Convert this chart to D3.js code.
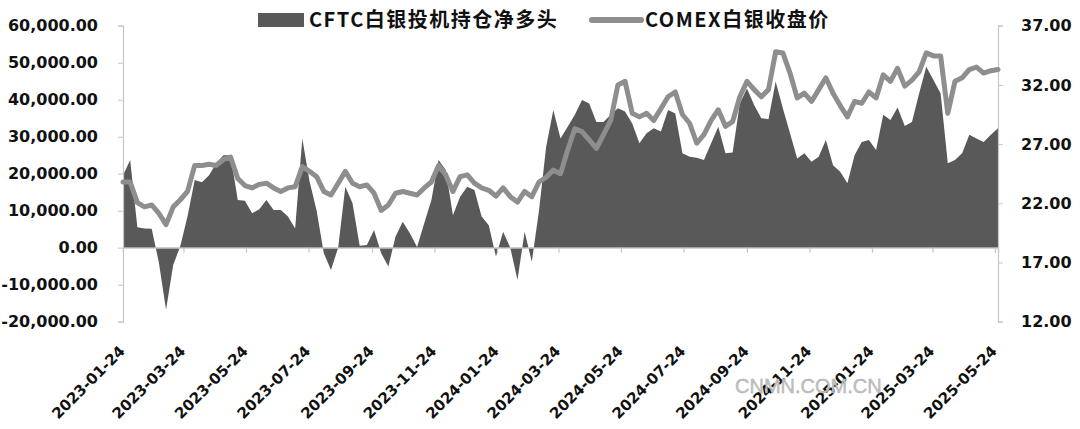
<!DOCTYPE html>
<html><head><meta charset="utf-8">
<script src="https://cdn.jsdelivr.net/npm/d3@7/dist/d3.min.js"></script>
<style>
html,body{margin:0;padding:0;background:#fff;}
svg{display:block;}
</style></head>
<body>
<svg id="chart" width="1080" height="429"></svg>
<script>
// CFTC weekly report dates start (Tuesday), one value per week
const startDate = "2023-01-24";
const endDate = "2025-05-27";
const tickLabels = ["2023-01-24","2023-03-24","2023-05-24","2023-07-24","2023-09-24","2023-11-24","2024-01-24","2024-03-24","2024-05-24","2024-07-24","2024-09-24","2024-11-24","2025-01-24","2025-03-24","2025-05-24"];
const leftTicks = [-20000,-10000,0,10000,20000,30000,40000,50000,60000];
const rightTicks = [12,17,22,27,32,37];
const seriesNames = ["CFTC白银投机持仓净多头","COMEX白银收盘价"];

const netLong = [19600,23700,5500,5200,5100,-4000,-16800,-4700,500,8500,
18300,17700,19600,22800,25000,25000,12900,12700,9300,10400,
12900,10200,10200,8400,5200,29500,18000,10000,-1500,-6000,
0,16500,12000,500,700,4800,-1500,-5100,3000,7000,
3900,200,6600,12900,23700,21000,8800,13800,16500,15600,
8400,6100,-2400,4300,0,-8700,4300,-3800,10000,27300,
37200,29500,32700,35900,39900,39000,34000,34000,35900,37700,
36800,33600,28200,30900,32300,31400,37200,36300,25500,24600,
24300,23700,28200,32700,25500,25700,39000,43000,38600,35000,
34700,44900,37700,30900,24100,25500,23200,24600,29100,22300,
20500,17400,25000,28600,29100,26400,35900,34500,37900,32900,
34000,41700,48900,45300,41700,22800,23700,25500,30500,29500,
28600,30500,32300];

const price = [23.8,23.8,22.06,21.7,21.86,21.15,20.2,21.7,22.3,23.0,
25.2,25.2,25.3,25.2,25.7,25.9,24.1,23.5,23.3,23.6,
23.7,23.3,23.0,23.3,23.4,25.1,24.7,24.25,23.0,22.7,
23.7,24.7,23.7,23.4,23.55,22.85,21.4,21.86,22.85,23.0,
22.85,22.7,23.3,23.8,25.2,24.4,23.0,24.25,24.4,23.7,
23.3,23.1,22.6,23.3,22.56,22.1,23.0,22.56,23.8,24.2,
24.8,24.5,26.5,28.3,28.05,27.35,26.65,27.8,29.0,32.0,
32.3,29.6,29.3,29.6,29.0,30.0,31.0,31.4,29.5,28.76,
27.07,27.8,29.0,29.9,28.5,28.9,31.0,32.3,31.6,31.0,
31.6,34.8,34.7,33.0,30.9,31.3,30.6,31.6,32.6,31.3,
30.25,29.3,30.6,30.45,31.4,30.9,32.85,32.3,33.4,31.9,
32.4,33.1,34.7,34.45,34.45,29.6,32.3,32.6,33.3,33.5,
33.0,33.2,33.3];

const parse = d3.utcParse("%Y-%m-%d");
const fmtDate = d3.utcFormat("%Y-%m-%d");
const t0 = parse(startDate);
const dates = netLong.map((_, i) => d3.utcDay.offset(t0, 7 * i));
const data = dates.map((d, i) => ({date: d, net: netLong[i], price: price[i]}));

const locale = d3.formatLocale({decimal: ".", thousands: ",", grouping: [3], currency: ["", ""], minus: "-"});
const fmtLeft = locale.format(",.2f");
const fmtRight = locale.format(".2f");

const svg = d3.select("#chart");
const X0 = 123, X1 = 998, Y0 = 25.7, Y1 = 321.7;

const x = d3.scaleUtc().domain([parse(startDate), parse(endDate)]).range([X0, X1]);
const yL = d3.scaleLinear().domain([-20000, 60000]).range([Y1, Y0]);
const yR = d3.scaleLinear().domain([12, 37]).range([Y1, Y0]);

const font = "'DejaVu Sans', sans-serif";
const axisColor = "#c6c6c6";

// area
const area = d3.area().x(d => x(d.date)).y0(yL(0)).y1(d => yL(d.net));
svg.append("path").datum(data).attr("d", area).attr("fill", "#595959");

// x axis at zero line
const xAxis = d3.axisBottom(x).tickValues(tickLabels.map(parse)).tickSize(5).tickFormat("");
const gx = svg.append("g").attr("transform", `translate(0,${yL(0)})`).call(xAxis);
gx.select(".domain").attr("stroke", axisColor).attr("stroke-width", 1.2);
gx.selectAll(".tick line").attr("stroke", axisColor).attr("stroke-width", 1.2);

// left axis
const gl = svg.append("g").attr("transform", `translate(${X0},0)`)
  .call(d3.axisLeft(yL).tickValues(leftTicks).tickSize(5).tickPadding(20).tickFormat(fmtLeft));
gl.select(".domain").attr("stroke", axisColor).attr("stroke-width", 1.2);
gl.selectAll(".tick line").attr("stroke", axisColor);
gl.selectAll("text").attr("font-family", font).attr("font-weight", "bold").attr("font-size", 16).attr("fill", "#111");

// right axis
const gr = svg.append("g").attr("transform", `translate(${X1},0)`)
  .call(d3.axisRight(yR).tickValues(rightTicks).tickSize(5).tickPadding(18).tickFormat(fmtRight));
gr.select(".domain").attr("stroke", axisColor).attr("stroke-width", 1.2);
gr.selectAll(".tick line").attr("stroke", axisColor);
gr.selectAll("text").attr("font-family", font).attr("font-weight", "bold").attr("font-size", 16).attr("fill", "#111");

// price line
const line = d3.line().x(d => x(d.date)).y(d => yR(d.price));
svg.append("path").datum(data).attr("d", line).attr("fill", "none")
  .attr("stroke", "#8e8e8e").attr("stroke-width", 5).attr("stroke-linejoin", "round").attr("stroke-linecap", "round");

// x labels
svg.append("g").selectAll("text").data(tickLabels).join("text")
  .attr("transform", d => `translate(${x(parse(d)) + 3},352) rotate(-45)`)
  .attr("text-anchor", "end")
  .attr("font-family", font).attr("font-weight", "bold").attr("font-size", 15).attr("fill", "#111")
  .text(d => d);

// legend
const lg = svg.append("g");
lg.append("rect").attr("x", 258).attr("y", 13).attr("width", 46).attr("height", 14).attr("fill", "#595959");
lg.append("text").attr("x", 309).attr("y", 27).text(seriesNames[0])
  .attr("font-family", "'Noto Sans CJK SC', sans-serif").attr("font-weight", "bold").attr("font-size", 20)
  .attr("letter-spacing", 1.5).attr("fill", "#111");
lg.append("line").attr("x1", 592).attr("x2", 641).attr("y1", 20).attr("y2", 20)
  .attr("stroke", "#8e8e8e").attr("stroke-width", 6).attr("stroke-linecap", "round");
lg.append("text").attr("x", 645).attr("y", 27).text(seriesNames[1])
  .attr("font-family", "'Noto Sans CJK SC', sans-serif").attr("font-weight", "bold").attr("font-size", 20)
  .attr("letter-spacing", 1.5).attr("fill", "#111");

// watermark
svg.append("text").attr("x", 735).attr("y", 393).text("CNMN.COM.CN")
  .attr("font-family", "'Liberation Sans', sans-serif").attr("font-size", 20)
  .attr("fill", "#c4c4c4").attr("stroke", "#a8a8a8").attr("stroke-width", 0.4);
</script>
</body></html>
